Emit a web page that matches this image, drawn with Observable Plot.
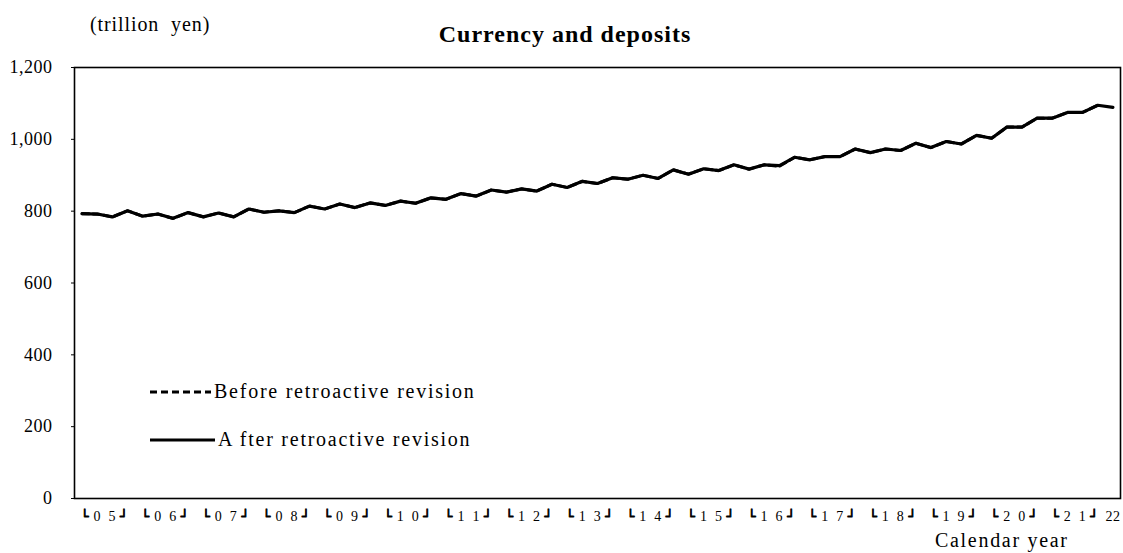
<!DOCTYPE html>
<html>
<head>
<meta charset="utf-8">
<script src="https://cdn.jsdelivr.net/npm/d3@7"></script>
<script src="https://cdn.jsdelivr.net/npm/@observablehq/plot@0.6"></script>
<style>
  body { margin: 0; background: #fff; }
  #wrap { position: relative; width: 1123px; height: 553px; font-family: "Liberation Serif", "DejaVu Serif", serif; color: #000; }
  .t { position: absolute; white-space: nowrap; line-height: 1.15; }
  #title { left: 0; width: 1130px; text-align: center; top: 21px; font-size: 24px; font-weight: bold; letter-spacing: 1px; }
  #unit { left: 90px; top: 13px; font-size: 20px; letter-spacing: 0.9px; word-spacing: 6px; }
  #xlab { left: 935px; top: 529px; font-size: 20px; letter-spacing: 1.7px; }
  .leg { position: absolute; font-size: 20px; line-height: 23px; display: flex; align-items: center; letter-spacing: 1.75px; white-space: nowrap; }
  .leg svg { margin-right: 3px; }
</style>
</head>
<body>
<div id="wrap">
  <div class="t" id="unit">(trillion yen)</div>
  <div class="t" id="title">Currency and deposits</div>
  <div id="chart"></div>
  <div class="leg" style="left:150px; top:380px;"><svg width="61" height="6"><line x1="0" x2="61" y1="3" y2="3" stroke="#000" stroke-width="3" stroke-dasharray="7,4"/></svg><span>Before retroactive revision</span></div>
  <div class="leg" style="left:150px; top:428px;"><svg width="65" height="6"><line x1="0" x2="65" y1="3" y2="3" stroke="#000" stroke-width="3"/></svg><span>A fter retroactive revision</span></div>
  <div class="t" id="xlab">Calendar year</div>
</div>
<script>
// Quarterly data, 2005Q1 .. 2022Q1 (trillion yen)
const quarters = d3.range(69); // index 0 = 2005Q1
const afterRevision = [793,792,784,801,786,792,780,796,784,795,784,806,797,801,796,814,806,820,810,823,
  816,828,822,837,833,849,842,859,853,862,856,875,866,883,877,893,889,900,891,915,903,918,913,
  929,917,929,927,950,943,952,952,973,963,973,969,989,977,994,987,1011,1003,1034,1034,1059,1059,1075,1075,1095,1089];
const beforeRevision = [793,792,784,801,786,792,780,796,784,795,784,806,797,801,796,814,806,820,810,823,
  816,828,822,837,833,849,842,859,853,862,856,875,866,883,877,893,889,900,891,915,903,918,913,
  929,917,929,925,950,943,952,952,973,963,973,969,989,977,994,987,1011,1003,1034,1034,1059,1059,1075,1075,1095];
const yearLabels = ["05","06","07","08","09","10","11","12","13","14","15","16","17","18","19","20","21"];
const lastLabel = "22";
const yTicks = [0,200,400,600,800,1000,1200];

const afterData = afterRevision.map((v, i) => ({i: quarters[i], v}));
const beforeData = beforeRevision.map((v, i) => ({i: quarters[i], v}));
const sp = "\u2002";
const yearTickData = yearLabels.map((s, k) => ({pos: k * 4 + 1.5, text: s[0] + sp + s[1]}));
const bracketData = yearLabels.flatMap((s, k) => [
  {pos: k * 4 + 1.5 - 1.3, text: "\u2514"},
  {pos: k * 4 + 1.5 + 1.3, text: "\u2518"}
]);
const lastTick = [{pos: 68, text: lastLabel}];

const chart = Plot.plot({
  width: 1123,
  height: 553,
  marginTop: 67,
  marginBottom: 55,
  marginLeft: 74,
  marginRight: 3,
  style: {fontFamily: "Liberation Serif, serif", fontSize: "18px", color: "#000", background: "transparent", letterSpacing: "0.5px"},
  x: {domain: [-0.5, 68.5], axis: null},
  y: {domain: [0, 1200], ticks: yTicks, tickFormat: d3.format(","), tickSize: 3, tickPadding: 19, label: null},
  marks: [
    Plot.line(beforeData, {x: "i", y: "v", stroke: "#000", strokeWidth: 3, strokeDasharray: "7,4"}),
    Plot.line(afterData, {x: "i", y: "v", stroke: "#000", strokeWidth: 3.2, strokeLinejoin: "miter"}),
    Plot.text(yearTickData, {x: "pos", text: "text", frameAnchor: "bottom", dy: 22, fontSize: 14, fill: "#000"}),
    Plot.text(bracketData, {x: "pos", text: "text", frameAnchor: "bottom", dy: 22, fontSize: 13, fontFamily: "DejaVu Sans", fontWeight: "bold", fill: "#000", stroke: "#000", strokeWidth: 0.8}),
    Plot.text(lastTick, {x: "pos", text: "text", frameAnchor: "bottom", dy: 22, fontSize: 14, fill: "#000"}),
    Plot.frame({stroke: "#000", strokeWidth: 1.6})
  ]
});
document.getElementById("chart").appendChild(chart);
</script>
</body>
</html>
